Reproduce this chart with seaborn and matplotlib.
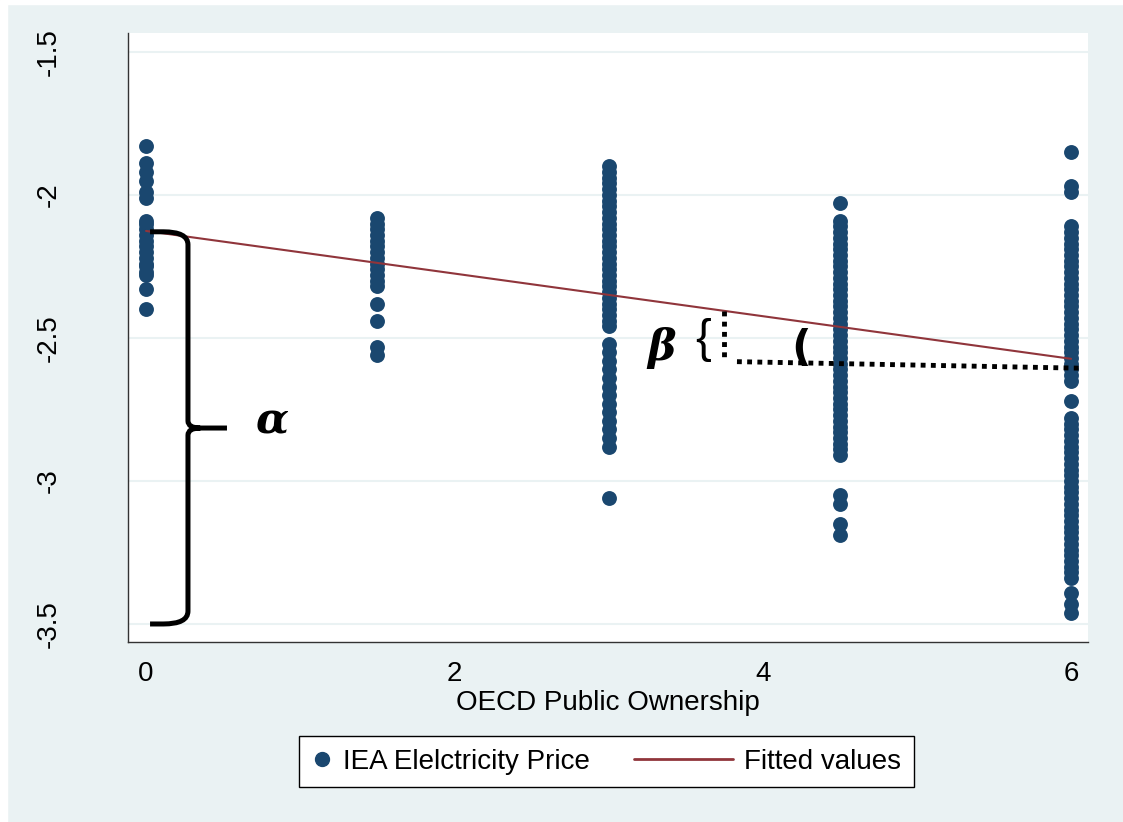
import numpy as np
import pandas as pd
import matplotlib
matplotlib.use('Agg')
import matplotlib.pyplot as plt
import seaborn as sns
from matplotlib.lines import Line2D
from matplotlib.patches import Rectangle, PathPatch
from matplotlib.path import Path
from matplotlib.legend_handler import HandlerLine2D

# ownership levels and the log prices seen at each level
levels = [0, 1.5, 3, 4.5, 6]
price_0 = [-1.83, -1.89, -1.92, -1.95, -1.99, -2.01, -2.09, -2.10, -2.12, -2.14,
           -2.16, -2.18, -2.20, -2.22, -2.24, -2.25, -2.27, -2.28, -2.33, -2.40]
price_15 = [-2.08, -2.10, -2.12, -2.14, -2.16, -2.18, -2.20, -2.22, -2.24, -2.26,
            -2.28, -2.30, -2.32, -2.38, -2.44, -2.53, -2.56]
price_3 = [-1.90, -1.92, -1.94, -1.96, -1.98, -2.00, -2.02, -2.04, -2.06, -2.08,
           -2.10, -2.12, -2.14, -2.16, -2.18, -2.20, -2.22, -2.24, -2.26, -2.28,
           -2.30, -2.32, -2.34, -2.36, -2.38, -2.40, -2.42, -2.44, -2.46,
           -2.52, -2.55, -2.58, -2.61, -2.64, -2.67, -2.70, -2.73, -2.76, -2.79,
           -2.82, -2.85, -2.88, -3.06]
price_45 = [-2.03, -2.09, -2.11, -2.13, -2.15, -2.17, -2.19, -2.21, -2.23, -2.25,
            -2.27, -2.29, -2.31, -2.33, -2.35, -2.37, -2.39, -2.41, -2.43, -2.45,
            -2.47, -2.49, -2.51, -2.53, -2.55, -2.57, -2.59, -2.61, -2.63, -2.65,
            -2.67, -2.69, -2.71, -2.73, -2.75, -2.77, -2.79, -2.81, -2.83, -2.85,
            -2.87, -2.89, -2.91, -3.05, -3.08, -3.15, -3.19]
price_6 = [-1.85, -1.97, -1.99, -2.11, -2.13, -2.15, -2.17, -2.19, -2.21, -2.23,
           -2.25, -2.27, -2.29, -2.31, -2.33, -2.35, -2.37, -2.39, -2.41, -2.43,
           -2.45, -2.47, -2.49, -2.51, -2.53, -2.55, -2.57, -2.59, -2.61, -2.63,
           -2.65, -2.72, -2.78, -2.80, -2.82, -2.84, -2.86, -2.88, -2.90, -2.92,
           -2.94, -2.96, -2.98, -3.00, -3.02, -3.04, -3.06, -3.08, -3.10, -3.12,
           -3.14, -3.16, -3.18, -3.20, -3.22, -3.24, -3.26, -3.28, -3.30, -3.32,
           -3.34, -3.39, -3.43, -3.46]
fit_x = [0, 6]
fit_y = [-2.126, -2.573]

yticks = [-3.5, -3, -2.5, -2, -1.5]
ytick_labels = ['-3.5', '-3', '-2.5', '-2', '-1.5']
xticks = [0, 2, 4, 6]

navy = '#1a476f'
maroon = '#90353b'
bg = '#eaf2f3'

sns.set_theme(style='white')
plt.rcParams['font.family'] = ['Liberation Sans', 'DejaVu Sans']
plt.rcParams['text.color'] = 'black'
plt.rcParams['axes.labelcolor'] = 'black'
plt.rcParams['xtick.labelcolor'] = 'black'
plt.rcParams['ytick.labelcolor'] = 'black'

df = pd.concat([pd.DataFrame({'own': lv, 'price': vals})
                for lv, vals in zip(levels, [price_0, price_15, price_3, price_45, price_6])])
fit = pd.DataFrame({'own': fit_x, 'fitted': fit_y})

fig = plt.figure(figsize=(11.2301, 8.2201), dpi=100, facecolor=bg)
fig.patches.append(Rectangle((0, 1 - 4 / 822), 1, 4 / 822, transform=fig.transFigure, color='white', zorder=0))
fig.patches.append(Rectangle((0, 0), 7 / 1123, 1, transform=fig.transFigure, color='white', zorder=0))
ax = fig.add_axes([128 / 1123, 1 - 642 / 822, 960 / 1123, 609 / 822])
ax.set_facecolor('white')

sns.scatterplot(data=df, x='own', y='price', color=navy, s=115, linewidth=0, ax=ax, legend=False, zorder=3)
sns.lineplot(data=fit, x='own', y='fitted', color=maroon, lw=1.5, ax=ax, legend=False, zorder=4)

ax.set_xlim(-0.117, 6.11)
ax.set_ylim(-3.563, -1.434)
ax.set_xticks(xticks)
ax.set_yticks(yticks)
ax.set_yticklabels(ytick_labels, rotation=90, va='center')
ax.tick_params(axis='both', length=8, width=1, color='#333333', labelcolor='black',
               labelsize=20, direction='out')
ax.tick_params(axis='x', pad=6)
ax.tick_params(axis='y', pad=40)
ax.yaxis.grid(True, color=bg, lw=1.5)
ax.set_axisbelow(True)
for s in ['top', 'right']:
    ax.spines[s].set_visible(False)
for s in ['left', 'bottom']:
    ax.spines[s].set_color('#333333')
    ax.spines[s].set_linewidth(1)
ax.set_xlabel('OECD Public Ownership', fontsize=20, labelpad=2, color='black')
ax.set_ylabel('')

# big brace marking alpha
xs, xb, xt = 0.026, 0.272, 0.525
yt, yb, ym = -2.129, -3.50, -2.815
rx, ry, rs = 0.16, 0.045, 0.025
verts = [(xs, yt), (xb - rx, yt), (xb, yt), (xb, yt - ry),
         (xb, ym + rs), (xb, ym), (xb + rx * 0.5, ym), (xt, ym),
         (xb + rx * 0.5, ym), (xb, ym), (xb, ym - rs),
         (xb, yb + ry), (xb, yb), (xb - rx, yb), (xs, yb)]
codes = [Path.MOVETO, Path.LINETO, Path.CURVE3, Path.CURVE3,
         Path.LINETO, Path.CURVE3, Path.CURVE3, Path.LINETO,
         Path.MOVETO, Path.CURVE3, Path.CURVE3,
         Path.LINETO, Path.CURVE3, Path.CURVE3, Path.LINETO]
ax.add_patch(PathPatch(Path(verts, codes), fill=False, lw=3.6, color='black', capstyle='butt', zorder=5))
ax.text(0.817, -2.832, 'α', fontsize=31, fontweight='bold', fontstyle='italic',
        family='DejaVu Serif', ha='center', va='baseline', color='black', zorder=6)

# beta marker and dotted slope guide
ax.text(3.346, -2.577, 'β', fontsize=31, fontweight='bold', fontstyle='italic',
        family='DejaVu Serif', ha='center', va='baseline', color='black', zorder=6)
ax.text(3.613, -2.55, '{', fontsize=34, family='Liberation Sans', ha='center', va='baseline',
        color='black', zorder=6)
ax.plot([3.749, 3.749], [-2.406, -2.57], color='black', lw=3.5, ls=(0, (1, 1.1)),
        dash_capstyle='butt', zorder=6)
ax.plot([3.833, 6.08], [-2.583, -2.606], color='black', lw=3.5, ls=(0, (1, 1.1)),
        dash_capstyle='butt', zorder=6)
ax.text(4.249, -2.58, '(', fontsize=31, fontweight='bold', family='DejaVu Sans',
        ha='center', va='baseline', color='black', zorder=6)


class LongLineHandler(HandlerLine2D):
    def __init__(self, length, **kw):
        super().__init__(**kw)
        self.length = length

    def create_artists(self, legend, orig_handle, xdescent, ydescent, width, height, fontsize, trans):
        extra = self.length * fontsize - width
        return super().create_artists(legend, orig_handle, xdescent + extra, ydescent,
                                      width + extra, height, fontsize, trans)


h_pts = Line2D([], [], marker='o', ls='none', color=navy, markersize=10)
h_fit = Line2D([], [], color=maroon, lw=2)
leg = fig.legend([h_pts, h_fit], ['IEA Elelctricity Price', 'Fitted values'],
                 loc='center', bbox_to_anchor=(606.5 / 1123, 1 - 761.5 / 822),
                 ncol=2, fontsize=20, handlelength=0.75, handletextpad=0.4,
                 columnspacing=4.4, borderpad=0.45, fancybox=False, framealpha=1,
                 edgecolor='black', facecolor='white',
                 handler_map={h_fit: LongLineHandler(3.56)})
leg.get_frame().set_linewidth(1)
for t in leg.get_texts():
    t.set_color('black')

fig.savefig('out.png', dpi=100, facecolor=bg)
